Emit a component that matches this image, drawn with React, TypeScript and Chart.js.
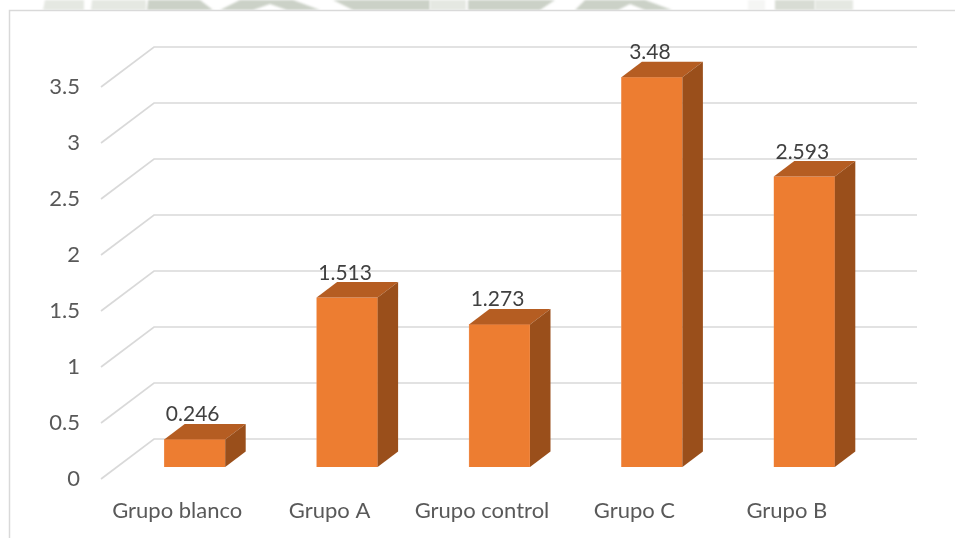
import React, { useEffect, useRef } from "react";
import { Chart, registerables } from "chart.js";

Chart.register(...registerables);

const categories = ["Grupo blanco", "Grupo A", "Grupo control", "Grupo C", "Grupo B"];
const values = [0.246, 1.513, 1.273, 3.48, 2.593];
const yTicks = [0, 0.5, 1, 1.5, 2, 2.5, 3, 3.5];

const FONT = "Lato, Carlito, sans-serif";
const FRONT = "#ED7D31";
const TOP = "#B55D22";
const SIDE = "#9A4F1B";
const GRID = "#D9D9D9";

// Offset of the floor's back edge from its front edge.
const FLOOR_DX = 53;
const FLOOR_DY = -40;
// Columns stand in the middle of the floor, and have their own depth.
const BAR_SHIFT_X = 17.5;
const BAR_SHIFT_Y = -12;
const BAR_DX = 20.5;
const BAR_DY = -15.5;

type Pt = [number, number];

function fillPoly(ctx: CanvasRenderingContext2D, pts: Pt[], color: string) {
  ctx.fillStyle = color;
  ctx.beginPath();
  pts.forEach(([x, y], i) => (i ? ctx.lineTo(x, y) : ctx.moveTo(x, y)));
  ctx.closePath();
  ctx.fill();
}

// Faint page watermark visible above the chart frame, and the frame itself.
const backdrop = {
  id: "backdrop",
  beforeDraw(chart: Chart) {
    const { ctx, width, height } = chart;
    const g = "#CBD1C7";
    const l = "#E5E8E2";
    ctx.save();
    ctx.filter = "blur(0.8px)";
    fillPoly(ctx, [[45, 0], [84, 0], [84, 10], [43, 10]], l);
    fillPoly(ctx, [[92, 0], [146, 0], [146, 10], [91, 10]], l);
    fillPoly(ctx, [[148, 0], [200, 0], [213, 10], [147, 10]], g);
    fillPoly(ctx, [[240, 0], [293, 0], [320, 10], [287, 10], [270, 4], [253, 10], [220, 10]], g);
    fillPoly(ctx, [[333, 0], [430, 0], [430, 10], [353, 10]], g);
    fillPoly(ctx, [[430, 0], [466, 0], [466, 10], [430, 10]], l);
    fillPoly(ctx, [[468, 0], [555, 0], [540, 10], [468, 10]], g);
    fillPoly(ctx, [[585, 0], [645, 0], [672, 10], [645, 10], [630, 4], [618, 10], [575, 10]], g);
    fillPoly(ctx, [[748, 0], [765, 0], [765, 10], [748, 10]], "#F5F6F4");
    fillPoly(ctx, [[775, 0], [815, 0], [815, 10], [775, 10]], "#D8DCD4");
    fillPoly(ctx, [[815, 0], [853, 0], [853, 10], [815, 10]], l);
    ctx.filter = "none";
    fillPoly(ctx, [[0, 10], [width, 10], [width, height], [0, height]], "#fff");
    ctx.strokeStyle = GRID;
    ctx.lineWidth = 1.5;
    ctx.beginPath();
    ctx.moveTo(9.5, height);
    ctx.lineTo(9.5, 10.5);
    ctx.lineTo(width, 10.5);
    ctx.stroke();
    ctx.restore();
  },
  // Gridlines bend at the floor's edge: short diagonal, then along the back wall.
  beforeDatasetsDraw(chart: Chart) {
    const { ctx, chartArea, scales } = chart;
    ctx.save();
    ctx.strokeStyle = GRID;
    ctx.lineWidth = 1.7;
    yTicks.forEach((t) => {
      const y = scales.y.getPixelForValue(t);
      ctx.beginPath();
      ctx.moveTo(chartArea.left, y);
      ctx.lineTo(chartArea.left + FLOOR_DX, y + FLOOR_DY);
      ctx.lineTo(chartArea.right + FLOOR_DX + 1, y + FLOOR_DY);
      ctx.stroke();
    });
    ctx.restore();
  },
};

// Moves the columns onto the floor, extrudes them, and labels each with its value.
const columns3d = {
  id: "columns3d",
  beforeDatasetDraw(chart: Chart) {
    chart.ctx.save();
    chart.ctx.translate(BAR_SHIFT_X, BAR_SHIFT_Y);
  },
  afterDatasetDraw(chart: Chart) {
    const { ctx } = chart;
    chart.getDatasetMeta(0).data.forEach((bar: any, i: number) => {
      const { x, y, base, width } = bar.getProps(["x", "y", "base", "width"], true);
      const l = x - width / 2;
      const r = x + width / 2;
      fillPoly(ctx, [[l, y], [r, y], [r + BAR_DX, y + BAR_DY], [l + BAR_DX, y + BAR_DY]], TOP);
      fillPoly(ctx, [[r, y], [r + BAR_DX, y + BAR_DY], [r + BAR_DX, base + BAR_DY], [r, base]], SIDE);
      ctx.fillStyle = "#404040";
      ctx.font = `21px ${FONT}`;
      ctx.textAlign = "center";
      ctx.textBaseline = "alphabetic";
      ctx.fillText(String(values[i]), x - 2, y - 18);
    });
    ctx.restore();
  },
};

export default function App() {
  const ref = useRef<HTMLCanvasElement>(null);

  useEffect(() => {
    document.body.style.margin = "0";
    const chart = new Chart(ref.current!, {
      type: "bar",
      data: {
        labels: categories,
        datasets: [
          {
            data: values,
            backgroundColor: FRONT,
            borderColor: "#F2A574",
            borderWidth: 0.5,
            barThickness: 61,
          },
        ],
      },
      options: {
        animation: false,
        responsive: false,
        layout: { padding: { left: 10, top: 87, right: 92, bottom: 0 } },
        plugins: { legend: { display: false }, tooltip: { enabled: false } },
        scales: {
          x: {
            grid: { display: false },
            border: { display: false },
            ticks: { color: "#595959", font: { family: FONT, size: 22 }, padding: 11, maxRotation: 0 },
            afterFit: (s: any) => {
              s.height = 59;
            },
          },
          y: {
            min: 0,
            max: 3.5,
            grid: { display: false },
            border: { display: false },
            afterFit: (s: any) => {
              s.width = 91;
            },
            afterBuildTicks: (s: any) => {
              s.ticks = yTicks.map((value) => ({ value }));
            },
            ticks: {
              color: "#595959",
              font: { family: FONT, size: 22 },
              padding: 13,
              callback: (v: any) => String(v),
            },
          },
        },
      },
      plugins: [backdrop, columns3d],
    });
    return () => chart.destroy();
  }, []);

  return (
    <div style={{ width: 955, height: 538, background: "#fff" }}>
      <canvas ref={ref} width={955} height={538} style={{ display: "block" }} />
    </div>
  );
}
